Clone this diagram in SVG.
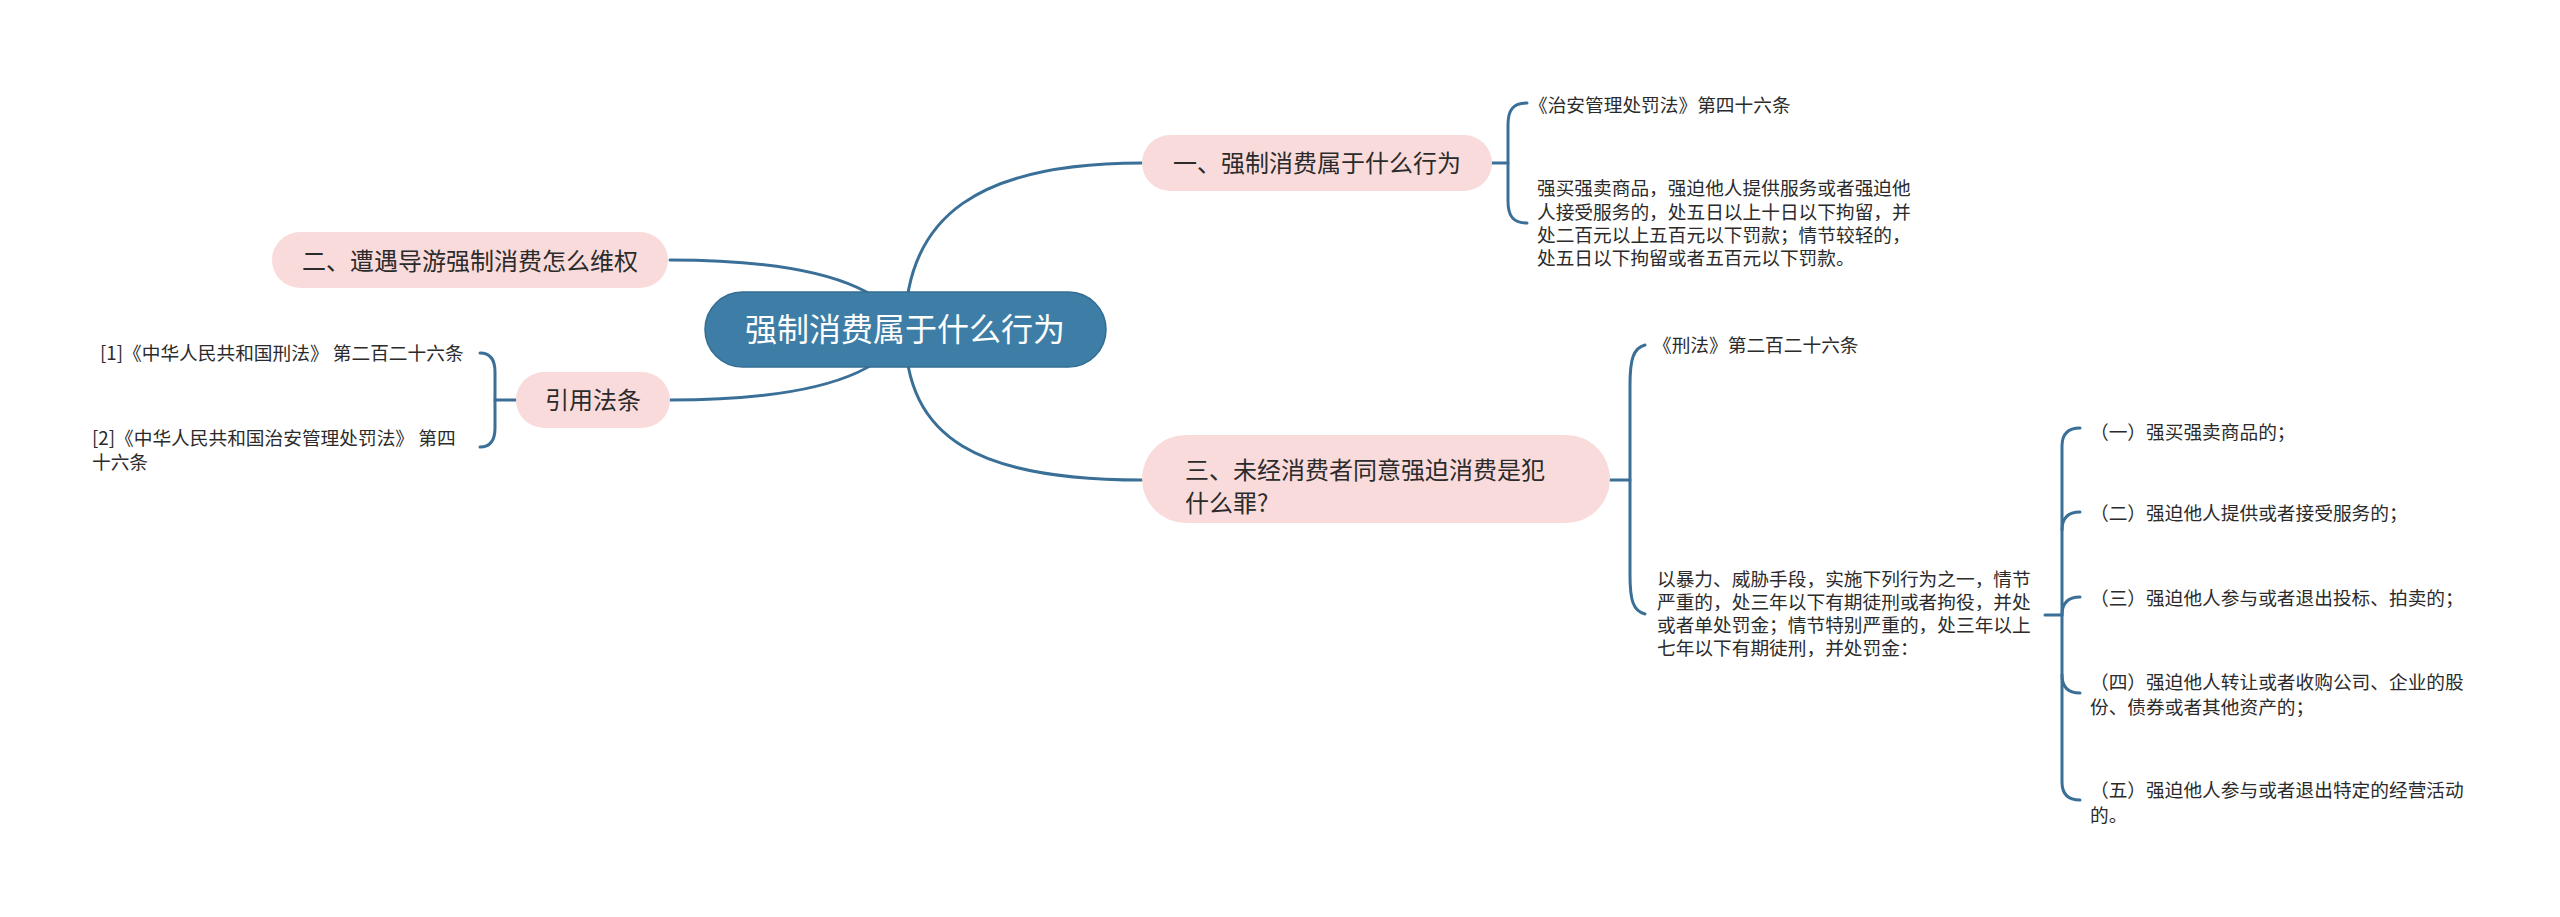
<svg xmlns="http://www.w3.org/2000/svg" width="2560" height="917" viewBox="0 0 2560 917">
<style>
.ln{fill:none;stroke:#3a6f97;stroke-width:3;stroke-linecap:round}
.root{fill:#3e7ea6;stroke:#346d92;stroke-width:1.5}
.lv1{fill:#fadbdb}
.t0{font-family:"Noto Sans CJK SC","Noto Sans",sans-serif;font-size:32px;fill:#ffffff}
.t1{font-family:"Noto Sans CJK SC","Noto Sans",sans-serif;font-size:24px;fill:#2b2b2b}
.t2{font-family:"Noto Sans CJK SC","Noto Sans",sans-serif;font-size:18.7px;fill:#2b2b2b}
</style>
<rect width="2560" height="917" fill="#ffffff"/>
<g id="connectors">
<path class="ln" d="M905,330 C880,275 780,260 670,260"/>
<path class="ln" d="M905,330 C880,385 780,400 670,400"/>
<path class="ln" d="M905,330 C905,215 980,163 1142,163"/>
<path class="ln" d="M905,330 C905,440 980,480 1142,480"/>
<path class="ln" d="M1492,163 H1508"/>
<path class="ln" d="M1527,103 C1513,103 1508,110 1508,125 V201 C1508,216 1513,223 1527,223"/>
<path class="ln" d="M516,400 H495"/>
<path class="ln" d="M480,353 C490,353 495,360 495,372 V428 C495,440 490,447 480,447"/>
<path class="ln" d="M1610,480 H1630"/>
<path class="ln" d="M1645,345 C1633,348 1630,360 1630,385 V575 C1630,600 1633,611 1645,614"/>
<path class="ln" d="M2045,615 H2062"/>
<path class="ln" d="M2080,428 Q2062,428 2062,446 V782 Q2062,800 2080,800"/>
<path class="ln" d="M2062,530 Q2062,512 2080,512"/>
<path class="ln" d="M2062,615 Q2062,597 2080,597"/>
<path class="ln" d="M2062,675 Q2062,693 2080,693"/>
</g>
<g id="root">
<rect class="root" x="705" y="292" width="401" height="75" rx="37.5"/>
<text class="t0" x="905" y="341" text-anchor="middle">强制消费属于什么行为</text>
</g>
<g id="n1">
<rect class="lv1" x="1142" y="135" width="350" height="56" rx="28"/>
<text class="t1" x="1317" y="172" text-anchor="middle">一、强制消费属于什么行为</text>
</g>
<g id="n2">
<rect class="lv1" x="272" y="232" width="396" height="56" rx="28"/>
<text class="t1" x="470" y="270" text-anchor="middle">二、遭遇导游强制消费怎么维权</text>
</g>
<g id="n3">
<rect class="lv1" x="1142" y="435" width="468" height="88" rx="44"/>
<text class="t1" x="1185" y="479">三、未经消费者同意强迫消费是犯</text>
<text class="t1" x="1185" y="512">什么罪?</text>
</g>
<g id="n4">
<rect class="lv1" x="516" y="372" width="154" height="56" rx="28"/>
<text class="t1" x="593" y="409" text-anchor="middle">引用法条</text>
</g>
<g id="n1a">
<text class="t2" x="1529" y="112">《治安管理处罚法》第四十六条</text>
</g>
<g id="n1b">
<text class="t2" x="1537" y="195">强买强卖商品，强迫他人提供服务或者强迫他</text>
<text class="t2" x="1537" y="219">人接受服务的，处五日以上十日以下拘留，并</text>
<text class="t2" x="1537" y="242">处二百元以上五百元以下罚款；情节较轻的，</text>
<text class="t2" x="1537" y="265">处五日以下拘留或者五百元以下罚款。</text>
</g>
<g id="n4a">
<text class="t2" x="100" y="360">[1]《中华人民共和国刑法》 第二百二十六条</text>
</g>
<g id="n4b">
<text class="t2" x="92" y="445">[2]《中华人民共和国治安管理处罚法》 第四</text>
<text class="t2" x="92" y="469">十六条</text>
</g>
<g id="n3a">
<text class="t2" x="1653" y="352">《刑法》第二百二十六条</text>
</g>
<g id="n3b">
<text class="t2" x="1657" y="586">以暴力、威胁手段，实施下列行为之一，情节</text>
<text class="t2" x="1657" y="609">严重的，处三年以下有期徒刑或者拘役，并处</text>
<text class="t2" x="1657" y="632">或者单处罚金；情节特别严重的，处三年以上</text>
<text class="t2" x="1657" y="655">七年以下有期徒刑，并处罚金：</text>
</g>
<g id="i1">
<text class="t2" x="2090" y="439">（一）强买强卖商品的；</text>
</g>
<g id="i2">
<text class="t2" x="2090" y="520">（二）强迫他人提供或者接受服务的；</text>
</g>
<g id="i3">
<text class="t2" x="2090" y="605">（三）强迫他人参与或者退出投标、拍卖的；</text>
</g>
<g id="i4">
<text class="t2" x="2090" y="689">（四）强迫他人转让或者收购公司、企业的股</text>
<text class="t2" x="2090" y="714">份、债券或者其他资产的；</text>
</g>
<g id="i5">
<text class="t2" x="2090" y="797">（五）强迫他人参与或者退出特定的经营活动</text>
<text class="t2" x="2090" y="822">的。</text>
</g>
</svg>
